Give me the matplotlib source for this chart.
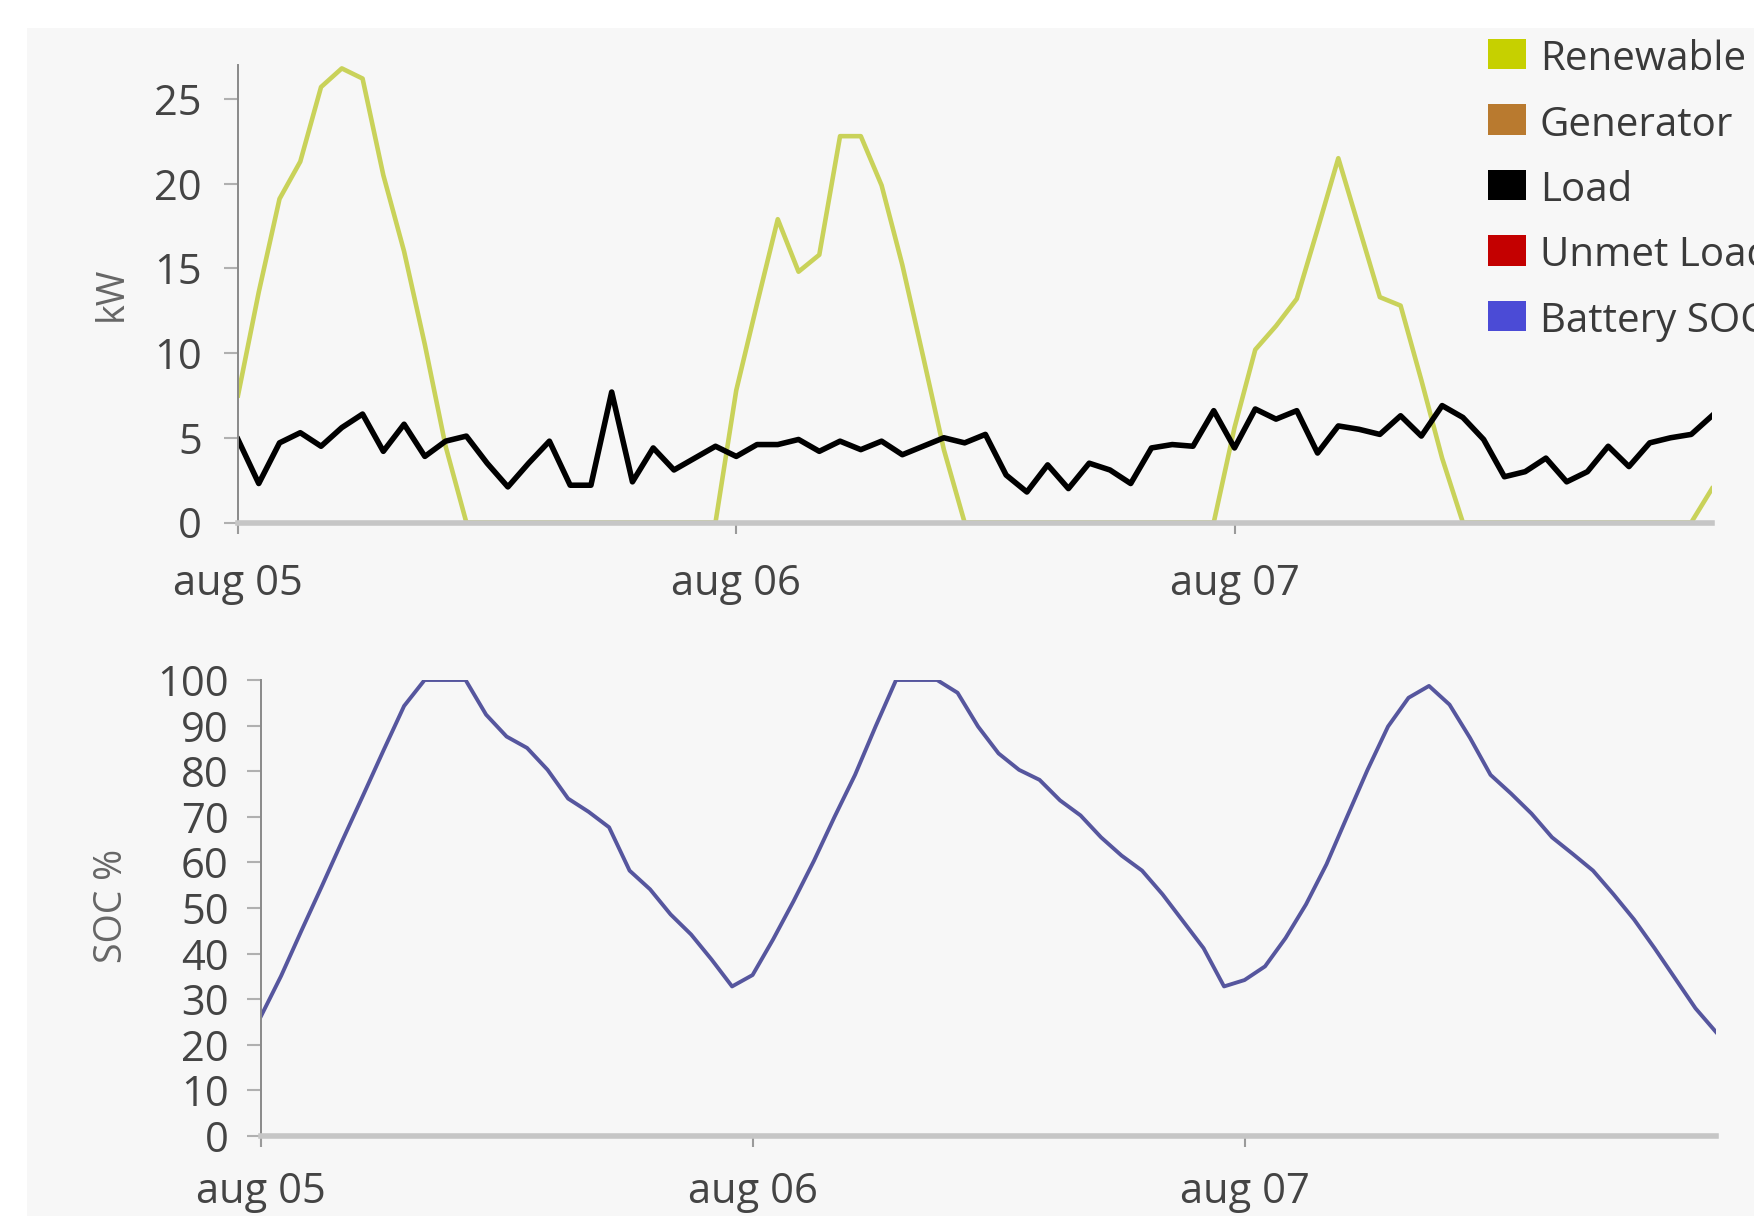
import matplotlib
matplotlib.use("Agg")
import matplotlib.pyplot as plt
from matplotlib.patches import Rectangle

plt.rcParams['font.family'] = ['Open Sans', 'DejaVu Sans']

# ---------------- data (hourly, 3 days) ----------------
hours = list(range(72))

renewable = [7.5, 13.6, 19.1, 21.3, 25.7, 26.8, 26.2, 20.5, 16.0, 10.5, 4.5, 0,
             0, 0, 0, 0, 0, 0, 0, 0, 0, 0, 0, 0,
             7.8, 12.9, 17.9, 14.8, 15.8, 22.8, 22.8, 19.9, 15.2, 9.8, 4.3, 0,
             0, 0, 0, 0, 0, 0, 0, 0, 0, 0, 0, 0,
             5.6, 10.2, 11.6, 13.2, 17.3, 21.5, 17.4, 13.3, 12.8, 8.4, 3.8, 0,
             0, 0, 0, 0, 0, 0, 0, 0, 0, 0, 0, 2.0]

load = [4.9, 2.3, 4.7, 5.3, 4.5, 5.6, 6.4, 4.2, 5.8, 3.9, 4.8, 5.1,
        3.5, 2.1, 3.5, 4.8, 2.2, 2.2, 7.7, 2.4, 4.4, 3.1, 3.8, 4.5,
        3.9, 4.6, 4.6, 4.9, 4.2, 4.8, 4.3, 4.8, 4.0, 4.5, 5.0, 4.7,
        5.2, 2.8, 1.8, 3.4, 2.0, 3.5, 3.1, 2.3, 4.4, 4.6, 4.5, 6.6,
        4.4, 6.7, 6.1, 6.6, 4.1, 5.7, 5.5, 5.2, 6.3, 5.1, 6.9, 6.2,
        4.9, 2.7, 3.0, 3.8, 2.4, 3.0, 4.5, 3.3, 4.7, 5.0, 5.2, 6.3]

soc = [26.1, 35.1, 45.1, 54.9, 64.9, 74.7, 84.6, 94.3, 100, 100, 100, 92.4,
       87.6, 85.1, 80.3, 74.0, 71.1, 67.7, 58.2, 54.1, 48.6, 44.2, 38.7, 32.8,
       35.3, 43.1, 51.5, 60.4, 70.0, 79.2, 89.8, 100, 100, 100, 97.2, 89.8,
       83.9, 80.3, 78.1, 73.6, 70.3, 65.5, 61.5, 58.2, 53.0, 47.1, 41.2, 32.8,
       34.2, 37.2, 43.4, 50.8, 59.6, 70.0, 80.3, 89.8, 96.1, 98.7, 94.6, 87.3,
       79.2, 75.1, 70.7, 65.5, 61.9, 58.2, 53.0, 47.5, 41.2, 34.6, 28.0, 22.8]

kw_ticks = [0, 5, 10, 15, 20, 25]
soc_ticks = [0, 10, 20, 30, 40, 50, 60, 70, 80, 90, 100]
day_ticks = [0, 24, 48]
day_labels = ["aug 05", "aug 06", "aug 07"]

legend_names = ["Renewable", "Generator", "Load", "Unmet Load", "Battery SOC"]
legend_colors = ["#c6d000", "#b97a2f", "#000000", "#c40000", "#4b4bd6"]

# ---------------- figure ----------------
W, H = 1754, 1216
fig = plt.figure(figsize=(W / 100, H / 100), dpi=100, facecolor="white")
fig.patches.append(Rectangle((27 / W, 0), 1 - 27 / W, 1 - 28 / H,
                             transform=fig.transFigure, facecolor="#f7f7f7",
                             edgecolor="none", zorder=-10))


def px_axes(left, top, right, bottom):
    return fig.add_axes([left / W, 1 - bottom / H, (right - left) / W, (bottom - top) / H])


def style(ax, xpad):
    ax.set_facecolor("none")
    ax.spines["top"].set_visible(False)
    ax.spines["right"].set_visible(False)
    ax.spines["left"].set_color("#8a8a8a")
    ax.spines["left"].set_linewidth(1.4)
    ax.spines["bottom"].set_color("#c6c6c6")
    ax.spines["bottom"].set_linewidth(4.0)
    ax.spines["bottom"].set_zorder(3)
    ax.tick_params(axis="x", direction="out", length=8, width=1.5, color="#9a9a9a",
                   pad=xpad, labelsize=30, labelcolor="#444444")
    ax.set_xticks(day_ticks)
    ax.set_xticklabels(day_labels)
    ax.set_xlim(0, 71)


# top: kW
ax1 = px_axes(238, 65, 1712, 522.5)
style(ax1, 21)
ax1.tick_params(axis="y", direction="out", length=10, width=1.5, color="#b0b0b0",
                pad=16, labelsize=30, labelcolor="#444444")
ax1.plot(hours, renewable, color="#c9d25a", lw=3.3, solid_joinstyle="round", zorder=1.9)
ax1.plot(hours, load, color="black", lw=4.0, solid_joinstyle="round", zorder=2.1)
ax1.set_ylim(0, 27.0)
ax1.set_yticks(kw_ticks)

# bottom: SOC
ax2 = px_axes(260.6, 680, 1716, 1136)
style(ax2, 17)
ax2.tick_params(axis="y", direction="out", length=10, width=1.5, color="#b0b0b0",
                pad=13, labelsize=30, labelcolor="#444444")
ax2.plot(hours, soc, color="#56569e", lw=2.8, solid_joinstyle="round", zorder=2)
ax2.set_ylim(0, 100)
ax2.set_yticks(soc_ticks)

fig.text(112 / W, 1 - 294 / H, "kW", rotation=90, ha="center", va="center",
         fontsize=27, color="#666666")
fig.text(112 / W, 1 - 906 / H, "SOC %", rotation=90, ha="center", va="center",
         fontsize=27, color="#666666")

# legend
for k, (name, col) in enumerate(zip(legend_names, legend_colors)):
    yc = 54 + 65.5 * k
    fig.patches.append(Rectangle((1488 / W, 1 - (yc + 15) / H), 38 / W, 30 / H,
                                 transform=fig.transFigure, facecolor=col,
                                 edgecolor="none", zorder=3))
    fig.text(1540 / W, 1 - (yc + 16) / H, name, fontsize=29, color="#3a3a3a",
             ha="left", va="baseline")

fig.savefig("out.png", dpi=100, facecolor="white")
